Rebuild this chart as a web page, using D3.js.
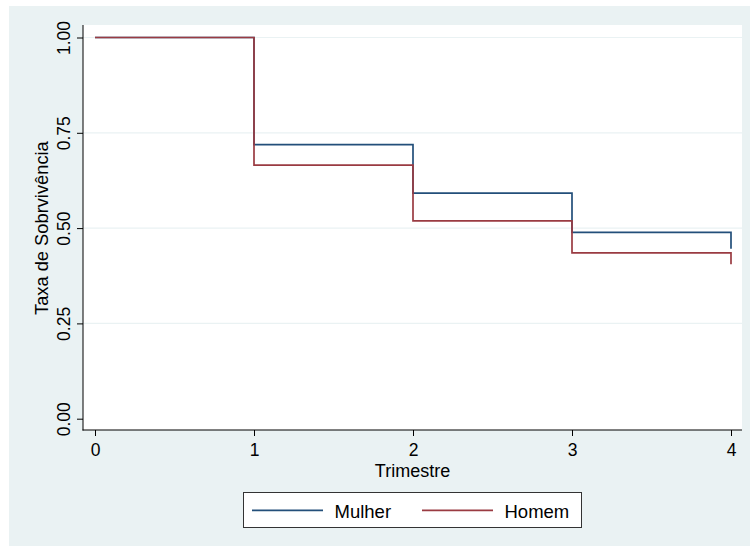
<!DOCTYPE html>
<html>
<head>
<meta charset="utf-8">
<script src="https://cdn.jsdelivr.net/npm/d3@7/dist/d3.min.js"></script>
<style>
  html, body { margin: 0; padding: 0; background: #ffffff; }
  svg { display: block; font-family: "Liberation Sans", Arial, Helvetica, sans-serif; }
</style>
</head>
<body>
<svg id="chart" width="750" height="546"></svg>
<script>
// Kaplan-Meier survival estimates by quarter
const trimestres = [0, 1, 2, 3, 4];
const mulher = [1.00, 0.719, 0.592, 0.489, 0.446];
const homem = [1.00, 0.665, 0.519, 0.435, 0.405];
const seriesNames = ["Mulher", "Homem"];
const seriesColors = ["#234f7a", "#9a3b42"];
const yTicks = [0, 0.25, 0.5, 0.75, 1];
const xTicks = [0, 1, 2, 3, 4];

const svg = d3.select("#chart");
const W = 750, H = 546;

// outer graph region
svg.append("rect")
  .attr("x", 9).attr("y", 6)
  .attr("width", W - 9).attr("height", H - 6)
  .attr("fill", "#eaf2f3");

// plot region
const plot = { left: 83, right: 742, top: 25, bottom: 430 };
svg.append("rect")
  .attr("x", plot.left).attr("y", plot.top)
  .attr("width", plot.right - plot.left)
  .attr("height", plot.bottom - plot.top)
  .attr("fill", "#ffffff");

const x = d3.scaleLinear().domain([0, 4]).range([95, 731]);
const y = d3.scaleLinear().domain([0, 1]).range([418.7, 37.5]);

// horizontal gridlines
svg.append("g")
  .selectAll("line")
  .data(yTicks.filter(d => d > 0))
  .join("line")
  .attr("x1", plot.left).attr("x2", plot.right)
  .attr("y1", d => y(d)).attr("y2", d => y(d))
  .attr("stroke", "#eaf2f3")
  .attr("stroke-width", 1.2);

// survival step curves
const line = d3.line()
  .x(d => x(d[0]))
  .y(d => y(d[1]))
  .curve(d3.curveStepAfter);

[mulher, homem].forEach((vals, i) => {
  svg.append("path")
    .datum(trimestres.map((t, k) => [t, vals[k]]))
    .attr("fill", "none")
    .attr("stroke", seriesColors[i])
    .attr("stroke-width", 1.7)
    .attr("d", line);
});

// y axis
const yAxis = svg.append("g")
  .attr("transform", `translate(${plot.left},0)`)
  .call(d3.axisLeft(y).tickValues(yTicks).tickSize(6).tickFormat(d3.format(".2f")));
yAxis.select(".domain").remove();
yAxis.selectAll(".tick line").attr("stroke", "#000").attr("stroke-width", 1);
yAxis.selectAll(".tick text")
  .attr("transform", "rotate(-90)")
  .attr("x", 0).attr("y", -13.5).attr("dy", 0)
  .attr("text-anchor", "middle")
  .attr("fill", "#000")
  .style("font-size", "17.5px")
  .style("font-family", "'Liberation Sans', Arial, sans-serif");
svg.append("line")
  .attr("x1", plot.left).attr("x2", plot.left)
  .attr("y1", plot.top).attr("y2", plot.bottom + 0.5)
  .attr("stroke", "#000").attr("stroke-width", 1);

// x axis
const xAxis = svg.append("g")
  .attr("transform", `translate(0,${plot.bottom})`)
  .call(d3.axisBottom(x).tickValues(xTicks).tickSize(6).tickFormat(d3.format("d")));
xAxis.select(".domain").remove();
xAxis.selectAll(".tick line").attr("stroke", "#000").attr("stroke-width", 1);
xAxis.selectAll(".tick text")
  .attr("y", 25.5).attr("dy", 0)
  .attr("fill", "#000")
  .style("font-size", "17.5px")
  .style("font-family", "'Liberation Sans', Arial, sans-serif");
svg.append("line")
  .attr("x1", plot.left - 0.5).attr("x2", plot.right)
  .attr("y1", plot.bottom).attr("y2", plot.bottom)
  .attr("stroke", "#000").attr("stroke-width", 1);

// axis titles
svg.append("text")
  .attr("x", (plot.left + plot.right) / 2).attr("y", 477)
  .attr("text-anchor", "middle")
  .style("font-size", "18px")
  .text("Trimestre");

svg.append("text")
  .attr("transform", `translate(48,${(y(0) + y(1)) / 2}) rotate(-90)`)
  .attr("text-anchor", "middle")
  .style("font-size", "18.3px")
  .text("Taxa de Sobrvivência");

// legend
const legend = svg.append("g");
legend.append("rect")
  .attr("x", 243.5).attr("y", 492.5)
  .attr("width", 338).attr("height", 35)
  .attr("fill", "#ffffff")
  .attr("stroke", "#333")
  .attr("stroke-width", 1);
const legendItems = [
  { x1: 252, x2: 323, tx: 334.5 },
  { x1: 422, x2: 493, tx: 504.5 }
];
legendItems.forEach((it, i) => {
  legend.append("line")
    .attr("x1", it.x1).attr("x2", it.x2)
    .attr("y1", 510.3).attr("y2", 510.3)
    .attr("stroke", seriesColors[i])
    .attr("stroke-width", 1.7);
  legend.append("text")
    .attr("x", it.tx).attr("y", 518.3)
    .style("font-size", "18.5px")
    .text(seriesNames[i]);
});
</script>
</body>
</html>
